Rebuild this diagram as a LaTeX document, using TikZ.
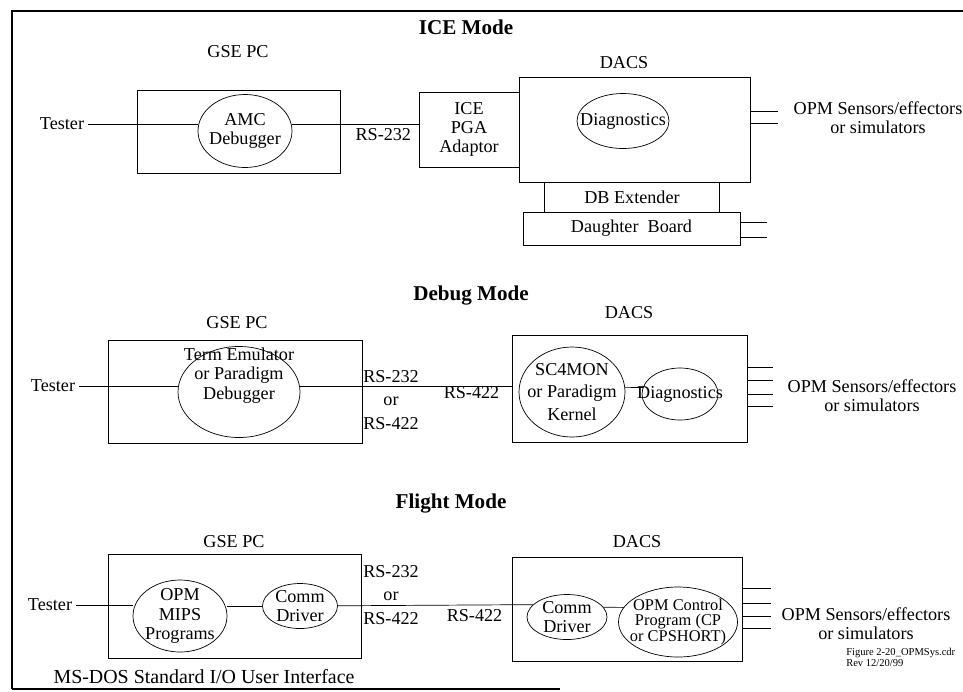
\documentclass[tikz,border=0pt]{standalone}
\usepackage{fontspec}
\setmainfont{Liberation Serif}
\usetikzlibrary{shapes.geometric}

\begin{document}
\begin{tikzpicture}[x=0.03cm, y=-0.03cm, line width=0.6pt,
    every node/.style={font=\fontsize{15.5}{16.5}\selectfont, align=center},
    title/.style={font=\fontsize{18}{20}\selectfont\bfseries},
    stack/.style={font=\fontsize{15.5}{20}\selectfont},
    box/.style={draw, rectangle, inner sep=0pt},
    oval/.style={draw, ellipse, inner sep=0pt}]
            \useasboundingbox (0,0) rectangle (963,691);
            \draw[line width=2pt] (963,11) -- (12,11) -- (12,689);
            \draw[line width=1pt] (12,689) -- (560,689);

            \node[title] (icet) at (466,27) {ICE Mode};
            \node (gse1l) at (238,52) {GSE PC};
            \node[box, minimum width=6.09cm, minimum height=2.49cm] (gse1) at (238.5,131.5) {};
            \node[oval, minimum width=2.82cm, minimum height=2.19cm, label=center:{AMC\\Debugger}] (amc) at (245,131) {};
            \node (tester1) at (62,124) {Tester};
            \node[box, minimum width=3cm, minimum height=2.25cm] (ice) at (469,129.5) {ICE\\PGA\\Adaptor};
            \node[box, minimum width=6.93cm, minimum height=3.15cm] (dacs1) at (634.5,129.5) {};
            \node (dacs1l) at (624,63) {DACS};
            \node[oval, minimum width=2.76cm, minimum height=1.65cm, label=center:Diagnostics] (diag1) at (623,121) {};
            \node (opm1) at (878,117.5) {OPM Sensors/effectors\\or simulators};
            \node[minimum width=5.22cm, minimum height=0.9cm] (dbx) at (632,197) {DB Extender};
            \node[box, minimum width=6.51cm, minimum height=0.99cm] (daughter) at (631.5,228.5) {Daughter\ \ Board};

            \draw (tester1) -- (tester1 -| amc.west);
            \draw (amc.east |- tester1) -- node[below, pos=.72] {RS-232} (ice.west |- tester1);
            \draw (dbx.north west) -- (dbx.south west) (dbx.north east) -- (dbx.south east);
            \foreach \y in {111,123} \draw (dacs1.east |- 0,\y) -- ++(28,0);
            \foreach \y in {222,237} \draw (daughter.east |- 0,\y) -- ++(27,0);

            \node[title] (debugt) at (471,296) {Debug Mode};
            \node (gse2l) at (237,323) {GSE PC};
            \node[box, minimum width=7.62cm, minimum height=3.09cm] (gse2) at (235,391.5) {};
            \node[oval, minimum width=3.66cm, minimum height=2.73cm, label={[yshift=0.5cm]center:{Term Emulator\\or Paradigm\\Debugger}}] (term) at (239,392) {};
            \node (tester2) at (53,386) {Tester};
            \node[box, minimum width=7.05cm, minimum height=3.21cm] (dacs2) at (629.5,388.5) {};
            \node (dacs2l) at (629,313) {DACS};
            \node[oval, minimum width=3.18cm, minimum height=2.7cm, label={[font=\fontsize{15.5}{19}\selectfont]center:{SC4MON\\or Paradigm\\Kernel}}] (sc4) at (572,392) {};
            \node[oval, minimum width=2.28cm, minimum height=1.56cm, label=center:Diagnostics] (diag2) at (680,394) {};
            \node[stack] (rs2) at (391,400) {RS-232\\or\\RS-422};
            \node (opm2) at (872,396) {OPM Sensors/effectors\\or simulators};

            \draw (tester2) -- (tester2 -| term.west);
            \draw (term.east |- tester2) -- node[below=-.3em, pos=.81] {RS-422} (dacs2.west |- tester2);
            \draw (sc4.5) -- (diag2.170);
            \foreach \y in {367,380,394,406} \draw (dacs2.east |- 0,\y) -- ++(26,0);

            \node[title] (flightt) at (451,503) {Flight Mode};
            \node (gse3l) at (234,542) {GSE PC};
            \node[box, minimum width=7.59cm, minimum height=3.12cm] (gse3) at (234.5,606) {};
            \node[oval, minimum width=2.82cm, minimum height=2.16cm, label=center:{OPM\\MIPS\\Programs}] (mips) at (180,616) {};
            \node[oval, minimum width=2.25cm, minimum height=1.35cm, label=center:{Comm\\Driver}] (comm1) at (300,606) {};
            \node (tester3) at (50,605) {Tester};
            \node[box, minimum width=6.9cm, minimum height=3.12cm] (dacs3) at (627,609) {};
            \node (dacs3l) at (637,542) {DACS};
            \node[oval, minimum width=2.4cm, minimum height=1.35cm, label=center:{Comm\\Driver}] (comm2) at (567,617) {};
            \node[oval, minimum width=3.57cm, minimum height=2.1cm, label={[font=\fontsize{14}{13.5}\selectfont]center:{OPM Control\\Program (CP\\or CPSHORT)}}] (ctrl) at (678,622) {};
            \node[stack] (rs3) at (391,595) {RS-232\\or\\RS-422};
            \node (opm3) at (866,624) {OPM Sensors/effectors\\or simulators};
            \node[font=\fontsize{17}{19}\selectfont] (msdos) at (204,677) {MS-DOS Standard I/O User Interface};
            \node[anchor=west, align=left, font=\fontsize{9}{9.5}\selectfont] (figcap) at (842,657.5) {Figure 2-20\_OPMSys.cdr\\Rev 12/20/99};

            \draw (tester3) -- (tester3 -| mips.west);
            \draw (mips.east |- comm1) -- (comm1);
            \draw (comm1) -- node[below, pos=.7] {RS-422} (comm2.160);
            \draw (comm2.15) -- (ctrl.165);
            \foreach \y in {588,603,616,628} \draw (dacs3.east |- 0,\y) -- ++(29,0);
        \end{tikzpicture}
\end{document}
